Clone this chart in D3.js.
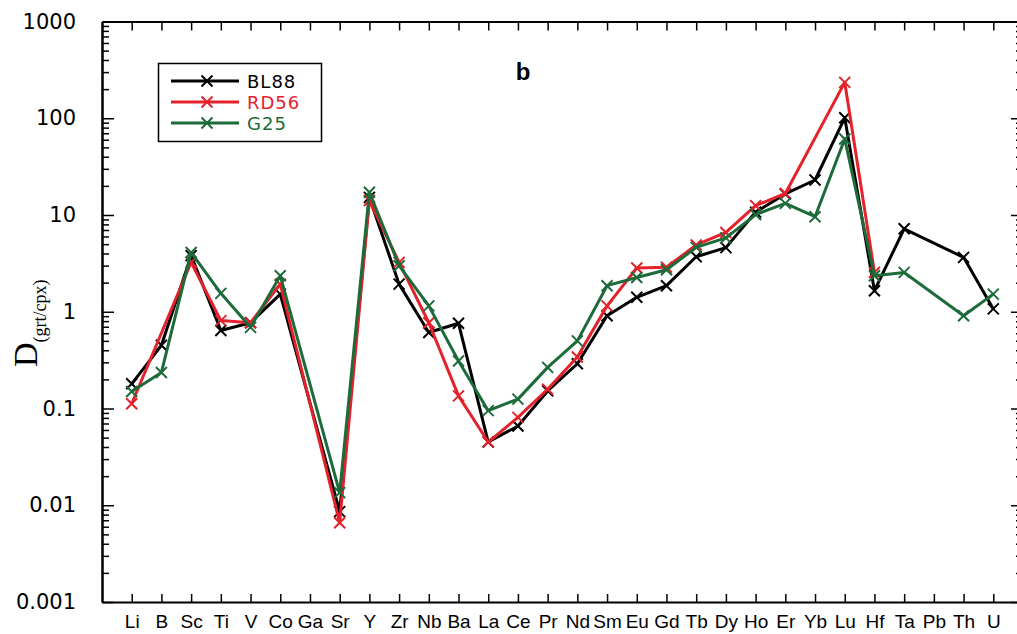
<!DOCTYPE html>
<html>
<head>
<meta charset="utf-8">
<script src="https://cdn.jsdelivr.net/npm/d3@7"></script>
<style>
  body { margin: 0; background: #fff; overflow: hidden; }
  svg { display: block; }
</style>
</head>
<body>
<div id="chart"></div>
<script>
// element order along the x axis
var elements = ['Li', 'B', 'Sc', 'Ti', 'V', 'Co', 'Ga', 'Sr', 'Y', 'Zr', 'Nb', 'Ba', 'La', 'Ce', 'Pr',
    'Nd', 'Sm', 'Eu', 'Gd', 'Tb', 'Dy', 'Ho', 'Er', 'Yb', 'Lu', 'Hf', 'Ta', 'Pb', 'Th', 'U'];

// D(grt/cpx), null = not measured
var bl88 = [0.18, 0.45, 3.8, 0.64, 0.77, 1.52, null, 0.0086, 15.2, 1.93, 0.61, 0.76, 0.045, 0.066, 0.152,
    0.29, 0.91, 1.41, 1.86, 3.7, 4.6, 10.7, 16.5, 23, 101, 1.65, 7.2, null, 3.65, 1.07];
var rd56 = [0.112, null, 3.25, 0.81, 0.77, 1.93, null, 0.0066, 14.1, 3.24, 0.77, 0.135, 0.045, 0.081, 0.158,
    0.34, 1.15, 2.83, 2.88, 4.9, 6.6, 12.5, 16.7, null, 235, 2.55, null, null, null, null];
var g25 = [0.15, 0.236, 4.1, 1.55, 0.69, 2.36, null, 0.0135, 17.2, 2.99, 1.15, 0.31, 0.095, 0.125, 0.266,
    0.50, 1.86, 2.26, 2.72, 4.63, 5.8, 10.1, 13.2, 9.6, 61, 2.36, 2.55, null, 0.91, 1.52];

var seriesNames = ['BL88', 'RD56', 'G25'];
var seriesColors = ['#000000', '#e3222b', '#1d6b3a'];

var yTicks = [0.001, 0.01, 0.1, 1, 10, 100, 1000];
var yTickLabels = ['0.001', '0.01', '0.1', '1', '10', '100', '1000'];

var W = 1017, H = 634;
var svg = d3.select('#chart').append('svg')
    .attr('width', W)
    .attr('height', H);

// index -1 .. 30 spans the frame, so the right edge sits just past the window
var x = d3.scaleLinear().domain([-1, elements.length]).range([102, 1023]);
var y = d3.scaleLog().domain([0.001, 1000]).range([602, 21.5]);

var minorTicks = [];
yTicks.slice(0, -1).forEach(function (t) {
    for (var k = 2; k <= 9; k++) minorTicks.push(t * k);
});

function styleAxis(g) {
    g.select('.domain').attr('stroke', '#000').attr('stroke-width', 2);
    g.selectAll('.tick line').attr('stroke', '#000').attr('stroke-width', 1.5);
}

// left axis, ticks pointing in
svg.append('g')
    .attr('transform', 'translate(' + x(-1) + ',0)')
    .call(d3.axisLeft(y).tickValues(minorTicks).tickSizeInner(-7).tickSizeOuter(0).tickFormat(''))
    .call(styleAxis);
var left = svg.append('g')
    .attr('transform', 'translate(' + x(-1) + ',0)')
    .call(d3.axisLeft(y).tickValues(yTicks).tickSizeInner(-12).tickSizeOuter(0).tickPadding(26)
        .tickFormat(function (d, i) { return yTickLabels[i]; }))
    .call(styleAxis);
left.selectAll('text')
    .attr('font-family', 'DejaVu Sans, sans-serif')
    .attr('font-size', 21)
    .attr('fill', '#000');

// right axis (mostly off the window)
svg.append('g')
    .attr('transform', 'translate(' + x(elements.length) + ',0)')
    .call(d3.axisRight(y).tickValues(minorTicks).tickSizeInner(-7).tickSizeOuter(0).tickFormat(''))
    .call(styleAxis);
svg.append('g')
    .attr('transform', 'translate(' + x(elements.length) + ',0)')
    .call(d3.axisRight(y).tickValues(yTicks).tickSizeInner(-12).tickSizeOuter(0).tickFormat(''))
    .call(styleAxis);

// top and bottom
var idx = d3.range(elements.length);
svg.append('g')
    .attr('transform', 'translate(0,' + y(1000) + ')')
    .call(d3.axisTop(x).tickValues(idx).tickSizeInner(-9).tickSizeOuter(0).tickFormat(''))
    .call(styleAxis);
var bottom = svg.append('g')
    .attr('transform', 'translate(0,' + y(0.001) + ')')
    .call(d3.axisBottom(x).tickValues(idx).tickSizeInner(-8).tickSizeOuter(0).tickPadding(13)
        .tickFormat(function (d) { return elements[d]; }))
    .call(styleAxis);
bottom.selectAll('text')
    .attr('font-family', 'Liberation Sans Narrow, Arial Narrow, sans-serif')
    .attr('font-size', 19)
    .attr('fill', '#000');

// y title
var yt = svg.append('text')
    .attr('transform', 'translate(37,367) rotate(-90)')
    .attr('font-family', 'Liberation Serif, Times New Roman, serif')
    .attr('fill', '#000');
yt.append('tspan').attr('font-size', 34).text('D');
yt.append('tspan').attr('font-size', 18).attr('dy', 9).text('(grt/cpx)');

// panel letter
svg.append('text')
    .attr('x', 523).attr('y', 80)
    .attr('text-anchor', 'middle')
    .attr('font-family', 'Liberation Sans, Arial, sans-serif')
    .attr('font-weight', 'bold')
    .attr('font-size', 24)
    .text('b');

var cross = 'M-5.5,-5.5L5.5,5.5M-5.5,5.5L5.5,-5.5';
var allSeries = [bl88, rd56, g25];

var line = d3.line()
    .x(function (d) { return x(d.i); })
    .y(function (d) { return y(d.v); });

allSeries.forEach(function (vals, s) {
    // skip missing elements but keep the line joined
    var pts = vals.map(function (v, i) { return { i: i, v: v }; })
        .filter(function (d) { return d.v != null; });
    var g = svg.append('g');
    g.append('path')
        .datum(pts)
        .attr('d', line)
        .attr('fill', 'none')
        .attr('stroke', seriesColors[s])
        .attr('stroke-width', 3)
        .attr('stroke-linejoin', 'round');
    g.selectAll('path.mk')
        .data(pts)
        .enter().append('path')
        .attr('class', 'mk')
        .attr('d', cross)
        .attr('transform', function (d) { return 'translate(' + x(d.i) + ',' + y(d.v) + ')'; })
        .attr('stroke', seriesColors[s])
        .attr('stroke-width', 2)
        .attr('fill', 'none');
});

// legend
var lg = svg.append('g');
lg.append('rect')
    .attr('x', 158.5).attr('y', 63.5)
    .attr('width', 163).attr('height', 78)
    .attr('fill', '#fff')
    .attr('stroke', '#000')
    .attr('stroke-width', 1.5);
seriesNames.forEach(function (name, i) {
    var ly = 81 + i * 21;
    lg.append('line')
        .attr('x1', 171).attr('x2', 239)
        .attr('y1', ly).attr('y2', ly)
        .attr('stroke', seriesColors[i])
        .attr('stroke-width', 3);
    lg.append('path')
        .attr('d', cross)
        .attr('transform', 'translate(207,' + ly + ')')
        .attr('stroke', seriesColors[i])
        .attr('stroke-width', 2);
    lg.append('text')
        .attr('x', 247).attr('y', ly + 6.5)
        .attr('font-family', 'DejaVu Sans, sans-serif')
        .attr('font-size', 18)
        .attr('letter-spacing', 1)
        .attr('fill', seriesColors[i])
        .text(name);
});
</script>
</body>
</html>
